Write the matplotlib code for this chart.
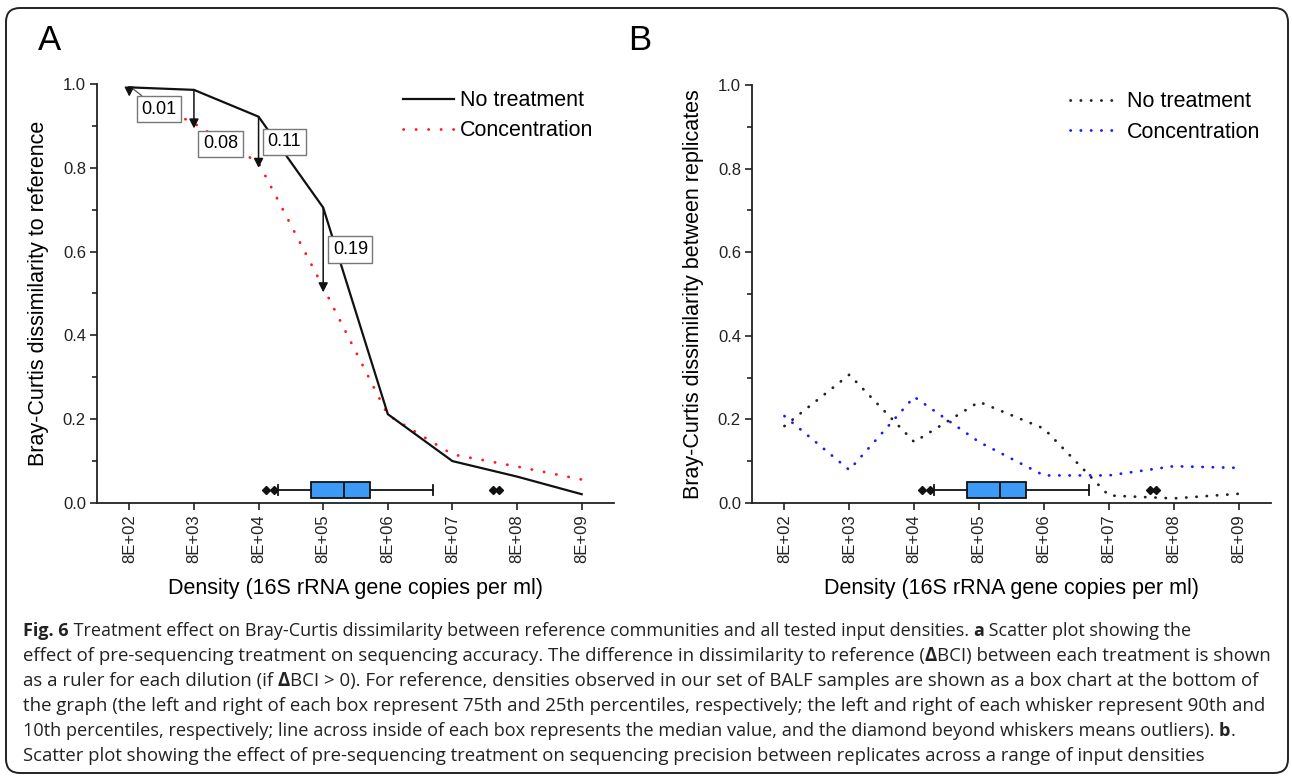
import matplotlib
matplotlib.use("Agg")
import matplotlib.pyplot as plt
from matplotlib.patches import FancyBboxPatch
from matplotlib.ticker import MultipleLocator, FormatStrFormatter, NullLocator

W, H, DPI = 1292, 776, 100

# ---------------- data ----------------
density = [8e2, 8e3, 8e4, 8e5, 8e6, 8e7, 8e8, 8e9]
density_labels = ["8E+02", "8E+03", "8E+04", "8E+05", "8E+06", "8E+07", "8E+08", "8E+09"]

a_no_treatment = [0.992, 0.986, 0.922, 0.705, 0.212, 0.100, 0.063, 0.021]
a_concentration = [0.982, 0.906, 0.812, 0.515, 0.210, 0.116, 0.087, 0.056]
ruler_index = [0, 1, 2, 3]            # dilutions where delta BCI > 0 is shown

b_no_treatment = [0.184, 0.307, 0.146, 0.242, 0.178, 0.018, 0.011, 0.022]
b_concentration = [0.208, 0.079, 0.254, 0.146, 0.066, 0.066, 0.088, 0.084]

# BALF sample densities (box chart)
box_whislo = 1.6e5
box_q1 = 5.2e5
box_med = 1.7e6
box_q3 = 4.3e6
box_whishi = 4.0e7
box_fliers = [1.05e5, 1.4e5, 3.4e8, 4.2e8]

series_labels = ["No treatment", "Concentration"]

caption_lines = [
    [("Fig. 6", True), (" Treatment effect on Bray-Curtis dissimilarity between reference communities and all tested input densities. ", False),
     ("a", True), (" Scatter plot showing the", False)],
    [("effect of pre-sequencing treatment on sequencing accuracy. The difference in dissimilarity to reference (", False),
     ("\u0394", True), ("BCI) between each treatment is shown", False)],
    [("as a ruler for each dilution (if ", False), ("\u0394", True),
     ("BCI > 0). For reference, densities observed in our set of BALF samples are shown as a box chart at the bottom of", False)],
    [("the graph (the left and right of each box represent 75th and 25th percentiles, respectively; the left and right of each whisker represent 90th and", False)],
    [("10th percentiles, respectively; line across inside of each box represents the median value, and the diamond beyond whiskers means outliers). ", False),
     ("b", True), (".", False)],
    [("Scatter plot showing the effect of pre-sequencing treatment on sequencing precision between replicates across a range of input densities", False)],
]
caption_line_end = [1145, 1277, 1262, 1270, 1235, 1202]   # right end of each caption line (px)

# ---------------- style ----------------
FONT = "Liberation Sans"
plt.rcParams["font.family"] = [FONT, "DejaVu Sans"]
TICK_FS = 12
LABEL_FS = 15.5
LEG_FS = 15.5

fig = plt.figure(figsize=(W / DPI, H / DPI), dpi=DPI)
fig.patch.set_facecolor("white")


def px_axes(left, top, right, bottom):
    return fig.add_axes([left / W, 1 - bottom / H, (right - left) / W, (bottom - top) / H])


axA = px_axes(97, 84, 614, 503)
axB = px_axes(752, 85, 1271, 503)

xlo = density[0] / 10 ** 0.5
xhi = density[-1] * 10 ** 0.5


def style_axes(ax, ylabel):
    ax.set_xscale("log")
    ax.set_xlim(xlo, xhi)
    ax.set_ylim(0, 1.0)
    ax.spines["top"].set_visible(False)
    ax.spines["right"].set_visible(False)
    for s in ("left", "bottom"):
        ax.spines[s].set_linewidth(1.3)
        ax.spines[s].set_color("#222222")
    ax.set_xticks(density)
    ax.set_xticklabels(density_labels, rotation=90, fontsize=TICK_FS)
    ax.xaxis.set_minor_locator(NullLocator())
    ax.yaxis.set_major_locator(MultipleLocator(0.2))
    ax.yaxis.set_minor_locator(MultipleLocator(0.1))
    ax.yaxis.set_major_formatter(FormatStrFormatter("%.1f"))
    ax.tick_params(axis="y", which="major", labelsize=TICK_FS)
    ax.tick_params(axis="both", which="major", direction="out", length=5, width=1.2, pad=3, colors="#222222")
    ax.tick_params(axis="y", which="minor", direction="out", length=3.5, width=1.2, colors="#222222")
    ax.set_xlabel("Density (16S rRNA gene copies per ml)", fontsize=LABEL_FS, labelpad=11)
    ax.set_ylabel(ylabel, fontsize=LABEL_FS, labelpad=10)


def draw_box(ax):
    stats = [dict(whislo=box_whislo, q1=box_q1, med=box_med, q3=box_q3, whishi=box_whishi,
                  fliers=box_fliers, label="")]
    kw = dict(positions=[0.031], widths=0.038, capwidths=[0.024], patch_artist=True, manage_ticks=False,
              boxprops=dict(facecolor="#3a9af5", edgecolor="#111111", linewidth=1.3),
              medianprops=dict(color="#111111", linewidth=1.3),
              whiskerprops=dict(color="#111111", linewidth=1.3),
              capprops=dict(color="#111111", linewidth=1.3),
              flierprops=dict(marker="D", markerfacecolor="#111111", markeredgecolor="#111111", markersize=4.5))
    try:
        ax.bxp(stats, orientation="horizontal", **kw)
    except TypeError:
        ax.bxp(stats, vert=False, **kw)


DOT_A = (0, (0.1, 4.4))
DOT_B = (0, (0.1, 3.6))

# ---------------- panel A ----------------
style_axes(axA, "Bray-Curtis dissimilarity to reference")
axA.plot(density, a_concentration, color="#ff1a1a", linestyle=DOT_A, linewidth=2.0,
         dash_capstyle="round", label=series_labels[1], zorder=3)
axA.plot(density, a_no_treatment, color="#111111", linestyle="-", linewidth=1.6,
         label=series_labels[0], zorder=4)

label_dx = [10 ** 0.46, 10 ** 0.41, 10 ** 0.40, 10 ** 0.42]
label_y = [0.94, 0.857, 0.862, 0.605]
for k, i in enumerate(ruler_index):
    nt, c = a_no_treatment[i], a_concentration[i]
    axA.annotate("", xy=(density[i], c - 0.012), xytext=(density[i], nt),
                 arrowprops=dict(arrowstyle="-|>,head_length=0.55,head_width=0.28", color="#111111",
                                 linewidth=1.1, shrinkA=0, shrinkB=0), zorder=5)
    bbox = dict(boxstyle="square,pad=0.25", facecolor="white", edgecolor="#777777", linewidth=1.0)
    if k == 0:
        axA.annotate(f"{nt - c:.2f}", xy=(density[i] * 1.15, nt - 0.004), xytext=(density[i] * label_dx[k], label_y[k]),
                     ha="center", va="center", fontsize=13, bbox=bbox, zorder=6,
                     arrowprops=dict(arrowstyle="-", color="#555555", linewidth=0.9, shrinkA=0, shrinkB=0))
    else:
        axA.text(density[i] * label_dx[k], label_y[k], f"{nt - c:.2f}", ha="center", va="center",
                 fontsize=13, bbox=bbox, zorder=6)

draw_box(axA)
hA, lA = axA.get_legend_handles_labels()
order = [lA.index(series_labels[0]), lA.index(series_labels[1])]
axA.legend([hA[j] for j in order], [lA[j] for j in order], loc="upper left",
           bbox_to_anchor=(0.592, 0.985), frameon=False, fontsize=LEG_FS, handlelength=2.35,
           handletextpad=0.3, labelspacing=0.42, borderpad=0, borderaxespad=0)

# ---------------- panel B ----------------
style_axes(axB, "Bray-Curtis dissimilarity between replicates")
axB.plot(density, b_no_treatment, color="#222222", linestyle=DOT_B, linewidth=2.0,
         dash_capstyle="round", label=series_labels[0], zorder=3)
axB.plot(density, b_concentration, color="#1a1aff", linestyle=DOT_B, linewidth=2.0,
         dash_capstyle="round", label=series_labels[1], zorder=3)
draw_box(axB)
axB.legend(loc="upper left", bbox_to_anchor=(0.613, 0.985), frameon=False, fontsize=LEG_FS,
           handlelength=2.35, handletextpad=0.3, labelspacing=0.45, borderpad=0, borderaxespad=0)

# panel letters
fig.text(49 / W, 1 - 40 / H, "A", fontsize=25, ha="center", va="center")
fig.text(640 / W, 1 - 40 / H, "B", fontsize=25, ha="center", va="center")

# ---------------- frame ----------------
frame = FancyBboxPatch((6, 3), 1282, 765, boxstyle="round,pad=0,rounding_size=14",
                       transform=None, facecolor="none", edgecolor="#222222", linewidth=1.4)
fig.add_artist(frame)

# ---------------- caption ----------------
CAP_FONT = ["Open Sans", "DejaVu Sans"]
CAP_FS = 13.45
CAP_X = 23.0
fig.canvas.draw()
renderer = fig.canvas.get_renderer()


def text_width(s, bold, size):
    w = fig.text(0, 0, "|" + s + "|", fontsize=size, family=CAP_FONT, fontweight="bold" if bold else "normal")
    r = fig.text(0, 0, "||", fontsize=size, family=CAP_FONT, fontweight="bold" if bold else "normal")
    val = w.get_window_extent(renderer).width - r.get_window_extent(renderer).width
    w.remove()
    r.remove()
    return val


for li, segs in enumerate(caption_lines):
    natural = sum(text_width(s, b, CAP_FS) for s, b in segs)
    scale = min(1.0, max(0.965, (caption_line_end[li] - CAP_X) / natural))
    size = CAP_FS * scale
    x = CAP_X
    y = 636 + li * 25.0
    for s, bold in segs:
        fig.text(x / W, 1 - y / H, s, fontsize=size, family=CAP_FONT,
                 fontweight="bold" if bold else "normal", ha="left", va="baseline", color="#222222")
        x += text_width(s, bold, size)

fig.savefig("out.png", dpi=DPI)
